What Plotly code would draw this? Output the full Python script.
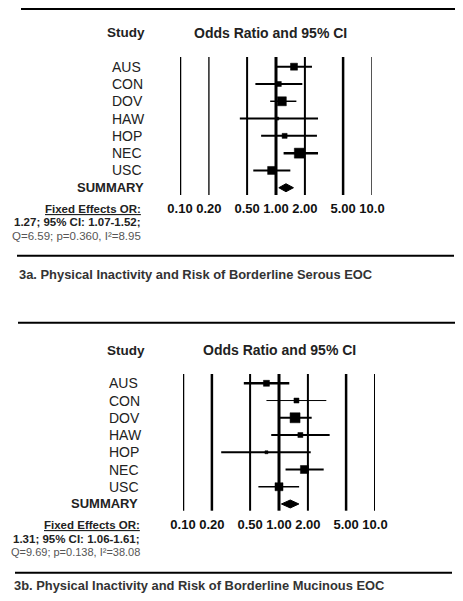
import plotly.graph_objects as go

# window 463x601; the page body adds an 8px margin, so the figure is drawn inset by 8px
WIN_W, WIN_H = 463, 601
OFF = 8
W, H = WIN_W - 2 * OFF, WIN_H - 2 * OFF

# ---------------- data ----------------
studies = ["AUS", "CON", "DOV", "HAW", "HOP", "NEC", "USC"]
summary_label = "SUMMARY"

a_or = [1.54, 1.07, 1.15, 1.03, 1.23, 1.75, 0.90]
a_lo = [1.00, 0.61, 0.87, 0.42, 0.70, 1.20, 0.58]
a_hi = [2.37, 1.88, 1.63, 2.74, 2.67, 2.74, 1.41]
a_sum = [1.27, 1.07, 1.52]  # estimate, lower, upper

b_or = [0.74, 1.52, 1.47, 1.67, 0.74, 1.84, 1.00]
b_lo = [0.43, 0.74, 1.02, 0.83, 0.25, 1.17, 0.61]
b_hi = [1.28, 3.11, 2.19, 3.37, 2.14, 2.92, 1.62]
b_sum = [1.31, 1.06, 1.61]

tick_vals = [0.1, 0.2, 0.5, 1, 2, 5, 10]
tick_text = ["0.10", "0.20", "0.50", "1.00", "2.00", "5.00", "10.0"]

a_stats = ["Fixed Effects OR:", "1.27; 95% CI: 1.07-1.52;", "Q=6.59; p=0.360, I\u00b2=8.95"]
b_stats = ["Fixed Effects OR:", "1.31; 95% CI: 1.06-1.61;", "Q=9.69; p=0.138, I\u00b2=38.08"]
a_caption = "3a. Physical Inactivity and Risk of Borderline Serous EOC"
b_caption = "3b. Physical Inactivity and Risk of Borderline Mucinous EOC"

# ---------------- styles ----------------
FONT = "Arial, 'Liberation Sans', sans-serif"
a_sq = [7, 5, 9, 3, 5, 10, 8]
b_sq = [6, 5, 10, 5, 3, 8, 8]
a_ciw = [2, 2, 1.5, 2, 2, 2.5, 2]
b_ciw = [2.5, 1, 2, 2, 2, 2, 1.5]
a_vw = [2.5, 1.5, 2, 3, 2, 2.5, 2]
a_vc = ["black", "#222", "black", "black", "black", "black", "#555"]
b_vw = [2.5, 2.5, 2, 3, 2, 2.5, 2]
b_vc = ["black"] * 7


def py(px):
    return 1 - (px - OFF) / H


def px_x(px):
    return (px - OFF) / W


fig = go.Figure()
shapes = []
annotations = []


def panel(ax, ay, ors, los, his, summ, sq, ciw, vw, vc, xleft, xright, ytop, ybot, row0, rowstep,
          lab_x, sum_x, hdr_y, study_x, or_x, stats, stats_x, stats_y, stats_size, cap, cap_x, cap_y,
          rules):
    xa = "x" if ax == 1 else f"x{ax}"
    ya = "y" if ay == 1 else f"y{ay}"
    # vertical reference lines
    for v, w, c in zip(tick_vals, vw, vc):
        shapes.append(dict(type="line", xref=xa, yref=f"{ya} domain", x0=v, x1=v, y0=0, y1=1,
                           line=dict(color=c, width=w), layer="below"))
    # CI lines
    for i in range(len(studies)):
        fig.add_trace(go.Scatter(x=[los[i], his[i]], y=[i, i], mode="lines",
                                 line=dict(color="black", width=ciw[i]),
                                 xaxis=xa, yaxis=ya, showlegend=False, hoverinfo="skip"))
    # squares
    fig.add_trace(go.Scatter(x=ors, y=list(range(len(studies))), mode="markers",
                             marker=dict(symbol="square", size=sq, color="black", opacity=1,
                                         line=dict(width=0.5, color="black")),
                             xaxis=xa, yaxis=ya, showlegend=False))
    # summary diamond
    n = len(studies)
    h = 0.23
    est, lo, hi = summ
    fig.add_trace(go.Scatter(x=[lo, est, hi, est, lo], y=[n, n - h, n, n + h, n],
                             mode="lines", fill="toself", fillcolor="black",
                             line=dict(color="black", width=1),
                             xaxis=xa, yaxis=ya, showlegend=False))
    top_idx = (ytop - row0) / rowstep
    bot_idx = (ybot - row0) / rowstep
    axis_common = dict(showgrid=False, zeroline=False, showline=False, automargin=False)
    fig.update_layout(**{
        ("xaxis" if ax == 1 else f"xaxis{ax}"): dict(
            type="log", range=[-1, 1], domain=[px_x(xleft), px_x(xright)], anchor=ya,
            tickmode="array", tickvals=tick_vals, ticktext=tick_text, tickangle=0,
            tickfont=dict(family=FONT, size=13, color="#111", weight="bold"),
            ticks="", ticklabelstandoff=4, **axis_common),
        ("yaxis" if ay == 1 else f"yaxis{ay}"): dict(
            range=[bot_idx, top_idx], domain=[py(ybot), py(ytop)], anchor=xa,
            showticklabels=False, ticks="", **axis_common),
    })
    # study labels
    for i, s in enumerate(studies):
        annotations.append(dict(text=s, x=px_x(lab_x), y=i, xref="paper", yref=ya,
                                xanchor="left", yanchor="middle", showarrow=False,
                                font=dict(family=FONT, size=14, color="#222")))
    annotations.append(dict(text="<b>" + summary_label + "</b>", x=px_x(sum_x), y=n, xref="paper", yref=ya,
                            xanchor="right", yanchor="middle", showarrow=False,
                            font=dict(family=FONT, size=13, color="#222")))
    # headers
    annotations.append(dict(text="<b>Study</b>", x=px_x(study_x), y=py(hdr_y), xref="paper", yref="paper",
                            xanchor="center", yanchor="middle", showarrow=False,
                            font=dict(family=FONT, size=13.5, color="#222")))
    annotations.append(dict(text="<b>Odds Ratio and 95% CI</b>", x=px_x(or_x), y=py(hdr_y), xref="paper",
                            yref="paper", xanchor="center", yanchor="middle", showarrow=False,
                            font=dict(family=FONT, size=14, color="#222")))
    # stats text
    styles = [("<u><b>", "</b></u>", "#222"), ("<b>", "</b>", "#222"), ("", "", "#555")]
    for t, yy, (o, c, col), sz in zip(stats, stats_y, styles, stats_size):
        annotations.append(dict(text=o + t + c, x=px_x(stats_x), y=py(yy), xref="paper", yref="paper",
                                xanchor="right", yanchor="middle", showarrow=False,
                                font=dict(family=FONT, size=sz, color=col)))
    # caption
    annotations.append(dict(text="<b>" + cap + "</b>", x=px_x(cap_x), y=py(cap_y), xref="paper", yref="paper",
                            xanchor="left", yanchor="middle", showarrow=False,
                            font=dict(family=FONT, size=12.9, color="#333")))
    # horizontal rules
    for (x0, x1, yy) in rules:
        shapes.append(dict(type="line", xref="paper", yref="paper", x0=px_x(x0), x1=px_x(x1),
                           y0=py(yy), y1=py(yy), line=dict(color="black", width=2)))


panel(1, 1, a_or, a_lo, a_hi, a_sum, a_sq, a_ciw, a_vw, a_vc,
      180, 372, 57, 195, 66.7, 17.29,
      110, 146, 33, 125.5, 270, a_stats, 143, [209, 222, 236], [11.5, 11.5, 11.5],
      a_caption, 17, 275, [(21, 455, 9), (17, 454, 255.7)])

panel(2, 2, b_or, b_lo, b_hi, b_sum, b_sq, b_ciw, b_vw, b_vc,
      183, 375, 374, 510.7, 383.3, 17.24,
      107, 140, 350, 125.5, 279, b_stats, 142, [525, 539, 552], [11.5, 11.5, 11],
      b_caption, 12, 585.5, [(18, 455, 322.7), (15, 452, 572.7)])

fig.update_layout(width=W, height=H, margin=dict(l=0, r=0, t=0, b=0, autoexpand=False),
                  paper_bgcolor="white", plot_bgcolor="white",
                  shapes=shapes, annotations=annotations, showlegend=False,
                  font=dict(family=FONT))

fig.write_html("out.html")
